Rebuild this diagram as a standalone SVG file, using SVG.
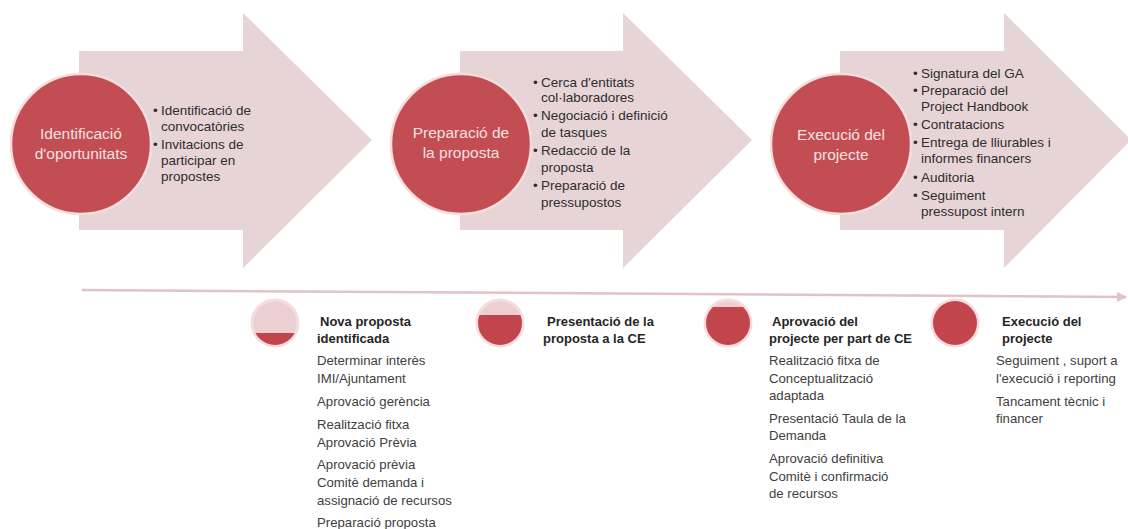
<svg xmlns="http://www.w3.org/2000/svg" width="1128" height="529" viewBox="0 0 1128 529">
<style>
.arrow{fill:#e7d4d6;}
.phase{fill:#c24d52;stroke:#f6dcdc;stroke-width:2.5;}
.ptxt{font-family:"Liberation Sans",Arial,sans-serif;font-size:15.5px;fill:#f6e0e0;text-anchor:middle;}
.btxt{font-family:"Liberation Sans",Arial,sans-serif;font-size:13.5px;fill:#2e2e2e;}
.tl{fill:#eccfd3;stroke:#f5dcde;stroke-width:3;}
.red{fill:#c2454c;}
.ttl{font-family:"Liberation Sans",Arial,sans-serif;font-size:13px;font-weight:bold;fill:#262626;}
.body{font-family:"Liberation Sans",Arial,sans-serif;font-size:13.2px;fill:#404040;}
</style>
<defs>
<marker id="ah" viewBox="0 0 10 10" refX="9" refY="5" markerWidth="4" markerHeight="4" orient="auto">
<path d="M0,0 L10,5 L0,10 Z" fill="#e0c2c7"/>
</marker>
<clipPath id="c1"><rect x="240" y="333" width="70" height="40"/></clipPath>
<clipPath id="c2"><rect x="465" y="315" width="70" height="40"/></clipPath>
<clipPath id="c3"><rect x="693" y="307" width="70" height="50"/></clipPath>
</defs>

<g id="phase1">
<path class="arrow" d="M79,51 H243 V13 L372,140 L243,268 V230 H79 Z"/>
<circle class="phase" cx="81" cy="144" r="70"/>
<text class="ptxt" x="81" y="139">Identificació</text>
<text class="ptxt" x="81" y="159">d'oportunitats</text>
<text class="btxt"><tspan x="153" y="115">•</tspan><tspan x="161" y="115">Identificació de</tspan><tspan x="161" y="131">convocatòries</tspan><tspan x="153" y="149">•</tspan><tspan x="161" y="149">Invitacions de</tspan><tspan x="161" y="165">participar en</tspan><tspan x="161" y="181">propostes</tspan></text>
</g>

<g id="phase2">
<path class="arrow" d="M460,51 H623 V13 L752,140 L623,268 V230 H460 Z"/>
<circle class="phase" cx="461" cy="144" r="70"/>
<text class="ptxt" x="461" y="138">Preparació de</text>
<text class="ptxt" x="461" y="158">la proposta</text>
<text class="btxt"><tspan x="533" y="87">•</tspan><tspan x="541" y="87">Cerca d'entitats</tspan><tspan x="541" y="102">col·laboradores</tspan><tspan x="533" y="120">•</tspan><tspan x="541" y="120">Negociació i definició</tspan><tspan x="541" y="137">de tasques</tspan><tspan x="533" y="155">•</tspan><tspan x="541" y="155">Redacció de la</tspan><tspan x="541" y="172">proposta</tspan><tspan x="533" y="190">•</tspan><tspan x="541" y="190">Preparació de</tspan><tspan x="541" y="207">pressupostos</tspan></text>
</g>

<g id="phase3">
<path class="arrow" d="M840,51 H1004 V13 L1131,140 L1004,268 V230 H840 Z"/>
<circle class="phase" cx="841" cy="144" r="70"/>
<text class="ptxt" x="841" y="140">Execució del</text>
<text class="ptxt" x="841" y="160">projecte</text>
<text class="btxt"><tspan x="913" y="78">•</tspan><tspan x="921" y="78">Signatura del GA</tspan><tspan x="913" y="95">•</tspan><tspan x="921" y="95">Preparació del</tspan><tspan x="921" y="111">Project Handbook</tspan><tspan x="913" y="129">•</tspan><tspan x="921" y="129">Contratacions</tspan><tspan x="913" y="147">•</tspan><tspan x="921" y="147">Entrega de lliurables i</tspan><tspan x="921" y="163">informes financers</tspan><tspan x="913" y="182">•</tspan><tspan x="921" y="182">Auditoria</tspan><tspan x="913" y="200">•</tspan><tspan x="921" y="200">Seguiment</tspan><tspan x="921" y="216">pressupost intern</tspan></text>
</g>

<g id="connectors">
<line x1="82" y1="290" x2="1126" y2="297" stroke="#e0c2c7" stroke-width="2.5" marker-end="url(#ah)"/>
</g>

<g id="milestone1">
<circle class="tl" cx="275" cy="323" r="23"/>
<circle class="red" cx="275" cy="323" r="22" clip-path="url(#c1)"/>
<text class="ttl"><tspan x="320" y="326">Nova proposta</tspan><tspan x="317" y="343">identificada</tspan></text>
<text class="body"><tspan x="317" y="365">Determinar interès</tspan><tspan x="317" y="383">IMI/Ajuntament</tspan><tspan x="317" y="406">Aprovació gerència</tspan><tspan x="317" y="429">Realització fitxa</tspan><tspan x="317" y="447">Aprovació Prèvia</tspan><tspan x="317" y="469">Aprovació prèvia</tspan><tspan x="317" y="487">Comitè demanda i</tspan><tspan x="317" y="505">assignació de recursos</tspan><tspan x="317" y="527">Preparació proposta</tspan></text>
</g>

<g id="milestone2">
<circle class="tl" cx="500" cy="323" r="23"/>
<circle class="red" cx="500" cy="323" r="22" clip-path="url(#c2)"/>
<text class="ttl"><tspan x="547" y="326">Presentació de la</tspan><tspan x="543" y="343">proposta a la CE</tspan></text>
</g>

<g id="milestone3">
<circle class="tl" cx="728" cy="323" r="23"/>
<circle class="red" cx="728" cy="323" r="22" clip-path="url(#c3)"/>
<text class="ttl"><tspan x="772" y="326">Aprovació del</tspan><tspan x="769" y="343">projecte per part de CE</tspan></text>
<text class="body"><tspan x="769" y="365">Realització fitxa de</tspan><tspan x="769" y="383">Conceptualització</tspan><tspan x="769" y="400">adaptada</tspan><tspan x="769" y="423">Presentació Taula de la</tspan><tspan x="769" y="440">Demanda</tspan><tspan x="769" y="463">Aprovació definitiva</tspan><tspan x="769" y="481">Comitè i confirmació</tspan><tspan x="769" y="498">de recursos</tspan></text>
</g>

<g id="milestone4">
<circle class="tl" cx="955" cy="323" r="23"/>
<circle class="red" cx="955" cy="323" r="22"/>
<text class="ttl"><tspan x="1002" y="326">Execució del</tspan><tspan x="1002" y="343">projecte</tspan></text>
<text class="body"><tspan x="996" y="365">Seguiment , suport a</tspan><tspan x="996" y="383">l'execució i reporting</tspan><tspan x="996" y="406">Tancament tècnic i</tspan><tspan x="996" y="423">financer</tspan></text>
</g>
</svg>
